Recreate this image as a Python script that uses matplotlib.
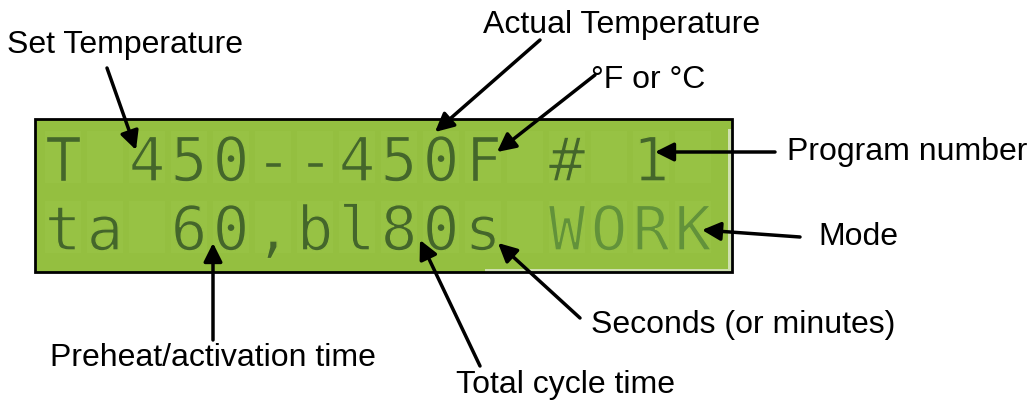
import matplotlib
matplotlib.use("Agg")
import matplotlib.pyplot as plt
import matplotlib.patheffects as pe
from matplotlib.patches import Rectangle

# =====================
# Data
# =====================

row1_chars = ["T", " ", "4", "5", "0", "-", "-", "4", "5", "0", "F", " ", "#", " ", "1", " "]
row2_chars = ["t", "a", " ", "6", "0", ",", "b", "l", "8", "0", "s", " ", "W", "O", "R", "K"]
faded_cols = [12, 13, 14, 15]  # "WORK" is dimmer on the display

labels = [
    "Set Temperature",
    "Actual Temperature",
    "°F or °C",
    "Program number",
    "Mode",
    "Seconds (or minutes)",
    "Preheat/activation time",
    "Total cycle time",
]

# =====================
# Figure (pixel coordinates)
# =====================

W, H = 1034, 400
fig = plt.figure(figsize=(W / 100, H / 100), dpi=100)
ax = fig.add_axes([0, 0, 1, 1])
ax.set_xlim(0, W)
ax.set_ylim(H, 0)
ax.axis("off")

LCD_BG = "#94bf40"
CELL_BG = "#97c244"
INK = "#44662b"
INK_FADED = "#62923a"

# LCD panel
lcd_x0, lcd_y0, lcd_x1, lcd_y1 = 35, 119, 732, 272
ax.add_patch(Rectangle((lcd_x0, lcd_y0), lcd_x1 - lcd_x0, lcd_y1 - lcd_y0,
                       facecolor=LCD_BG, edgecolor="none", zorder=1))
# soft glare along the right and bottom edges
ax.add_patch(Rectangle((lcd_x1 - 4, lcd_y0 + 10), 4, lcd_y1 - lcd_y0 - 10,
                       facecolor="#cfe0b0", edgecolor="none", zorder=1.2))
ax.add_patch(Rectangle((lcd_x0 + 450, lcd_y1 - 3), lcd_x1 - lcd_x0 - 450, 3,
                       facecolor="#cfe0b0", edgecolor="none", zorder=1.2))
ax.add_patch(Rectangle((lcd_x0, lcd_y0), lcd_x1 - lcd_x0, lcd_y1 - lcd_y0,
                       facecolor="none", edgecolor="black", linewidth=2, zorder=2))

# very faint character cells
pitch = 42
first_cx = 63
for top in [131, 201]:
    for c in range(16):
        ax.add_patch(Rectangle((first_cx + c * pitch - 18, top), 36, 52,
                               facecolor=CELL_BG, edgecolor="none", zorder=1.5))

thin = [pe.Normal(), pe.Stroke(linewidth=1.0, foreground=CELL_BG)]
lcd_font = dict(family="DejaVu Sans Mono", fontsize=44, ha="center", va="baseline",
                zorder=3, path_effects=thin)
for c, ch in enumerate(row1_chars):
    ax.text(first_cx + c * pitch, 181, ch, color=INK, **lcd_font)
for c, ch in enumerate(row2_chars):
    col = INK_FADED if c in faded_cols else INK
    ax.text(first_cx + c * pitch, 250, ch, color=col, **lcd_font)

# =====================
# Labels and arrows
# =====================

label_pos = [(125, 45), (622, 25), (648, 80), (907, 152),
             (858, 237), (743, 325), (213, 358), (565, 385)]
arrow_tail = [(107, 68), (540, 40), (595, 75), (775, 152),
              (800, 237), (580, 318), (213, 340), (480, 366)]
arrow_tip = [(136, 150), (435, 132), (497, 152), (655, 152),
             (702, 230), (498, 243), (213, 243), (420, 240)]

for text, (lx, ly) in zip(labels, label_pos):
    ax.text(lx, ly, text, family="Liberation Sans", fontsize=23,
            ha="center", va="center", color="black")

for tail, tip in zip(arrow_tail, arrow_tip):
    ax.annotate("", xy=tip, xytext=tail,
                arrowprops=dict(arrowstyle="-|>", color="black", lw=2.5,
                                mutation_scale=28, shrinkA=0, shrinkB=0),
                zorder=5)

fig.savefig("out.png", dpi=100)
